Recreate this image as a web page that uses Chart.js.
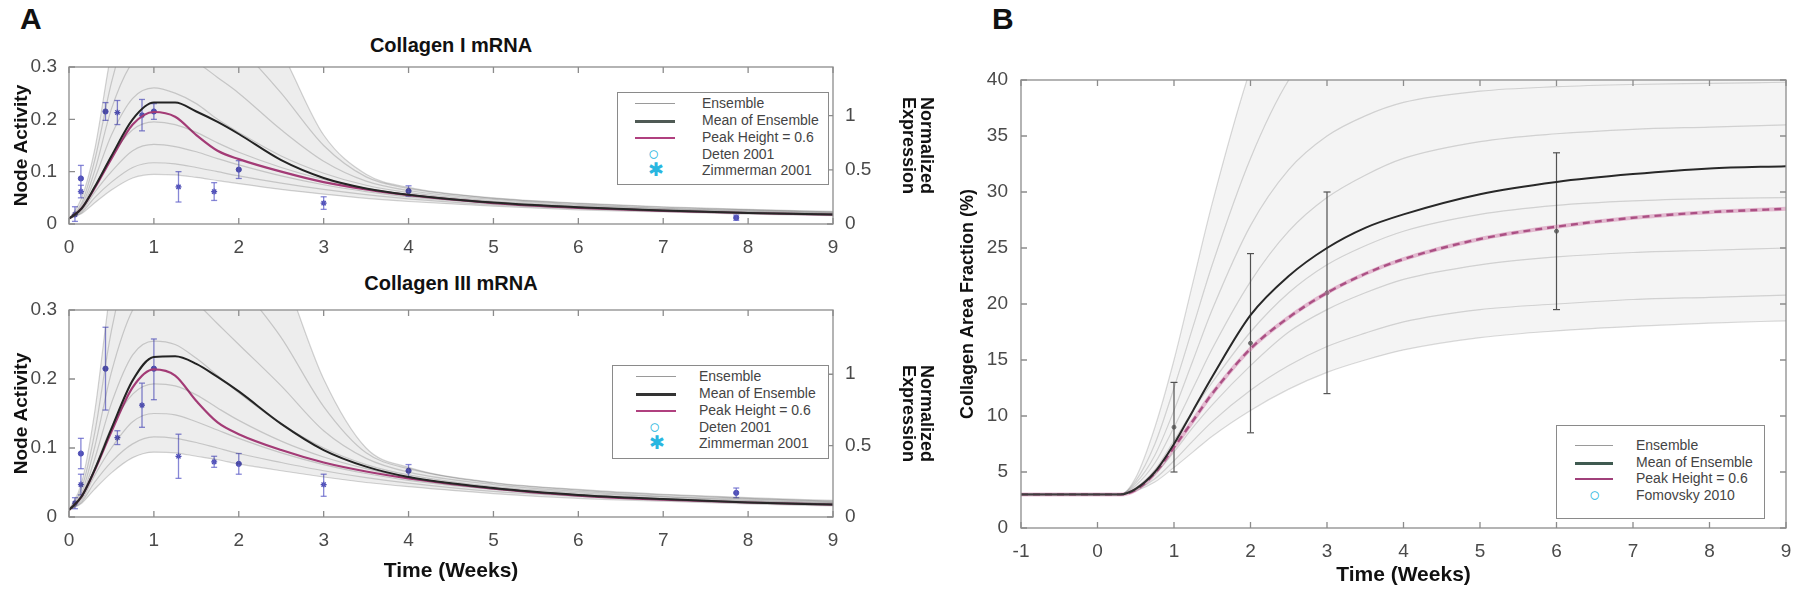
<!DOCTYPE html>
<html>
<head>
<meta charset="utf-8">
<script src="https://cdn.jsdelivr.net/npm/chart.js@4.4.1/dist/chart.umd.min.js"></script>
<style>
  body { margin: 0; width: 1800px; height: 594px; background: #fff; position: relative; overflow: hidden; font-family: "Liberation Sans", Arial, sans-serif; }
  canvas { position: absolute; }
  .lbl { position: absolute; font: bold 30px "Liberation Sans", Arial, sans-serif; color: #111; }
  .ttl { position: absolute; font: bold 20px "Liberation Sans Narrow", "Liberation Sans", Arial, sans-serif; color: #111; text-align: center; width: 300px; }
  .legend { position: absolute; border: 1px solid #8a8a8a; background: #fff; font: 14px "Liberation Sans", Arial, sans-serif; color: #444; }
  .row { position: absolute; left: 0; height: 16px; line-height: 16px; white-space: nowrap; }
  .row .s { position: absolute; top: 8px; }
  .row .t { position: absolute; }
  .mk { position: absolute; color: #29b6e0; font-size: 19px; line-height: 16px; top: 0; }
</style>
</head>
<body>
<div class="lbl" style="left:20px; top:2px;">A</div>
<div class="lbl" style="left:992px; top:2px;">B</div>
<div class="ttl" style="left:301px; top:34px;">Collagen I mRNA</div>
<div class="ttl" style="left:301px; top:272px;">Collagen III mRNA</div>

<canvas id="colI" width="940" height="219" style="left:0; top:35px;"></canvas>
<canvas id="colIII" width="940" height="316" style="left:0; top:278px;"></canvas>
<canvas id="area" width="860" height="594" style="left:940px; top:0;"></canvas>

<div class="legend" style="left:617px; top:92px; width:210px; height:91px;">
  <div class="row" style="top:2px"><div class="s" style="left:17px; width:40px; border-top:1.5px solid #9a9a9a"></div><span class="t" style="left:84px">Ensemble</span></div>
  <div class="row" style="top:19px"><div class="s" style="left:17px; width:40px; border-top:3px solid #4f5a55"></div><span class="t" style="left:84px">Mean of Ensemble</span></div>
  <div class="row" style="top:36px"><div class="s" style="left:17px; width:40px; border-top:2px solid #b0407f"></div><span class="t" style="left:84px">Peak Height = 0.6</span></div>
  <div class="row" style="top:53px"><span class="mk" style="left:30px">○</span><span class="t" style="left:84px">Deten 2001</span></div>
  <div class="row" style="top:69px"><span class="mk" style="left:30px">✱</span><span class="t" style="left:84px">Zimmerman 2001</span></div>
</div>
<div class="legend" style="left:612px; top:365px; width:215px; height:92px;">
  <div class="row" style="top:2px"><div class="s" style="left:23px; width:40px; border-top:1.5px solid #9a9a9a"></div><span class="t" style="left:86px">Ensemble</span></div>
  <div class="row" style="top:19px"><div class="s" style="left:23px; width:40px; border-top:3px solid #333"></div><span class="t" style="left:86px">Mean of Ensemble</span></div>
  <div class="row" style="top:36px"><div class="s" style="left:23px; width:40px; border-top:2px solid #b0407f"></div><span class="t" style="left:86px">Peak Height = 0.6</span></div>
  <div class="row" style="top:53px"><span class="mk" style="left:36px">○</span><span class="t" style="left:86px">Deten 2001</span></div>
  <div class="row" style="top:69px"><span class="mk" style="left:36px">✱</span><span class="t" style="left:86px">Zimmerman 2001</span></div>
</div>
<div class="legend" style="left:1556px; top:425px; width:207px; height:92px;">
  <div class="row" style="top:11px"><div class="s" style="left:18px; width:38px; border-top:1.5px solid #9a9a9a"></div><span class="t" style="left:79px">Ensemble</span></div>
  <div class="row" style="top:28px"><div class="s" style="left:18px; width:38px; border-top:3px solid #3f5a50"></div><span class="t" style="left:79px">Mean of Ensemble</span></div>
  <div class="row" style="top:44px"><div class="s" style="left:18px; width:38px; border-top:2px solid #a0407a"></div><span class="t" style="left:79px">Peak Height = 0.6</span></div>
  <div class="row" style="top:61px"><span class="mk" style="left:32px">○</span><span class="t" style="left:79px">Fomovsky 2010</span></div>
</div>

<script>
// ---- panel A : Collagen I / III mRNA (node activity vs weeks)
const weeksA = [0, 0.15, 0.3, 0.5, 0.75, 1, 1.25, 1.5, 1.75, 2, 2.5, 3, 3.5, 4, 5, 6, 7, 8, 9];
const ticksAx = [0, 1, 2, 3, 4, 5, 6, 7, 8, 9];
const ticksAy = [0, 0.1, 0.2, 0.3];
const ticksNorm = [0, 0.5, 1];

const meanI = [0.01, 0.03, 0.07, 0.13, 0.2, 0.232, 0.232, 0.215, 0.195, 0.172, 0.122, 0.088, 0.068, 0.056, 0.041, 0.032, 0.026, 0.021, 0.018];
const peakI = [0.01, 0.03, 0.068, 0.125, 0.19, 0.214, 0.205, 0.17, 0.14, 0.124, 0.1, 0.08, 0.066, 0.055, 0.04, 0.031, 0.025, 0.021, 0.018];
const ensembleI = [
  [0.01, 0.05, 0.14, 0.33, 0.5, 0.56, 0.56, 0.54, 0.5, 0.46, 0.33, 0.17, 0.095, 0.07, 0.05, 0.04, 0.033, 0.028, 0.024],
  [0.01, 0.04, 0.12, 0.27, 0.4, 0.44, 0.44, 0.42, 0.38, 0.34, 0.25, 0.15, 0.09, 0.068, 0.049, 0.039, 0.032, 0.027, 0.023],
  [0.01, 0.035, 0.1, 0.22, 0.31, 0.34, 0.335, 0.31, 0.28, 0.25, 0.18, 0.12, 0.082, 0.064, 0.047, 0.037, 0.03, 0.026, 0.022],
  [0.01, 0.03, 0.085, 0.17, 0.24, 0.26, 0.25, 0.23, 0.2, 0.175, 0.13, 0.097, 0.074, 0.06, 0.044, 0.035, 0.029, 0.024, 0.021],
  [0.01, 0.028, 0.07, 0.13, 0.18, 0.195, 0.19, 0.175, 0.155, 0.137, 0.108, 0.085, 0.068, 0.056, 0.042, 0.033, 0.027, 0.023, 0.02],
  [0.01, 0.025, 0.06, 0.1, 0.14, 0.152, 0.148, 0.138, 0.125, 0.113, 0.092, 0.075, 0.062, 0.052, 0.04, 0.032, 0.026, 0.022, 0.019],
  [0.01, 0.022, 0.05, 0.08, 0.108, 0.117, 0.115, 0.108, 0.1, 0.092, 0.078, 0.066, 0.056, 0.048, 0.037, 0.03, 0.025, 0.021, 0.018],
  [0.01, 0.02, 0.04, 0.065, 0.088, 0.095, 0.094, 0.089, 0.083, 0.077, 0.066, 0.057, 0.049, 0.043, 0.034, 0.027, 0.023, 0.019, 0.016]
];
// data points (weeks, mean, low, high)
const detenIt = [0.14, 0.43, 1.0, 2.0, 4.0, 7.86];
const detenIy = [0.087, 0.215, 0.215, 0.104, 0.063, 0.012];
const detenIlo = [0.062, 0.198, 0.2, 0.087, 0.053, 0.007];
const detenIhi = [0.112, 0.232, 0.23, 0.121, 0.073, 0.017];
const zimIt = [0.07, 0.14, 0.57, 0.86, 1.29, 1.71, 3.0];
const zimIy = [0.018, 0.062, 0.213, 0.208, 0.071, 0.062, 0.04];
const zimIlo = [0.005, 0.05, 0.19, 0.178, 0.042, 0.045, 0.028];
const zimIhi = [0.033, 0.074, 0.236, 0.238, 0.1, 0.079, 0.052];

const meanIII = [0.01, 0.03, 0.068, 0.128, 0.198, 0.232, 0.233, 0.222, 0.203, 0.182, 0.135, 0.097, 0.073, 0.058, 0.042, 0.032, 0.026, 0.021, 0.018];
const peakIII = [0.01, 0.03, 0.067, 0.124, 0.188, 0.214, 0.205, 0.168, 0.137, 0.12, 0.097, 0.079, 0.066, 0.056, 0.041, 0.031, 0.025, 0.021, 0.018];
const ensembleIII = [
  [0.01, 0.05, 0.15, 0.34, 0.5, 0.56, 0.57, 0.55, 0.52, 0.48, 0.36, 0.2, 0.1, 0.072, 0.05, 0.04, 0.033, 0.028, 0.024],
  [0.01, 0.042, 0.12, 0.27, 0.39, 0.43, 0.43, 0.41, 0.38, 0.34, 0.26, 0.16, 0.093, 0.07, 0.049, 0.039, 0.032, 0.027, 0.023],
  [0.01, 0.035, 0.1, 0.21, 0.3, 0.33, 0.33, 0.31, 0.28, 0.25, 0.19, 0.125, 0.085, 0.065, 0.047, 0.037, 0.03, 0.026, 0.022],
  [0.01, 0.03, 0.083, 0.165, 0.235, 0.255, 0.25, 0.23, 0.205, 0.18, 0.135, 0.1, 0.076, 0.061, 0.044, 0.035, 0.029, 0.024, 0.021],
  [0.01, 0.028, 0.07, 0.13, 0.178, 0.193, 0.19, 0.177, 0.158, 0.14, 0.11, 0.087, 0.07, 0.057, 0.042, 0.033, 0.027, 0.023, 0.02],
  [0.01, 0.025, 0.06, 0.1, 0.138, 0.15, 0.148, 0.138, 0.126, 0.114, 0.093, 0.076, 0.063, 0.053, 0.04, 0.032, 0.026, 0.022, 0.019],
  [0.01, 0.022, 0.05, 0.08, 0.106, 0.116, 0.114, 0.108, 0.1, 0.092, 0.079, 0.067, 0.057, 0.049, 0.037, 0.03, 0.025, 0.021, 0.018],
  [0.01, 0.02, 0.04, 0.064, 0.086, 0.094, 0.093, 0.088, 0.083, 0.077, 0.067, 0.058, 0.05, 0.044, 0.034, 0.027, 0.023, 0.019, 0.016]
];
const detenIIIt = [0.14, 0.43, 1.0, 2.0, 4.0, 7.86];
const detenIIIy = [0.092, 0.215, 0.215, 0.077, 0.067, 0.035];
const detenIIIlo = [0.07, 0.155, 0.17, 0.062, 0.058, 0.028];
const detenIIIhi = [0.114, 0.275, 0.258, 0.092, 0.076, 0.042];
const zimIIIt = [0.07, 0.14, 0.57, 0.86, 1.29, 1.71, 3.0];
const zimIIIy = [0.02, 0.047, 0.115, 0.162, 0.088, 0.08, 0.047];
const zimIIIlo = [0.012, 0.032, 0.105, 0.13, 0.056, 0.072, 0.03];
const zimIIIhi = [0.028, 0.062, 0.125, 0.194, 0.12, 0.088, 0.062];

// ---- panel B : collagen area fraction (%)
const weeksB = [-1, 0, 0.3, 0.5, 0.75, 1, 1.25, 1.5, 2, 2.5, 3, 3.5, 4, 5, 6, 7, 8, 9];
const ticksBx = [-1, 0, 1, 2, 3, 4, 5, 6, 7, 8, 9];
const ticksBy = [0, 5, 10, 15, 20, 25, 30, 35, 40];
const meanB = [3, 3, 3, 3.5, 5, 7.5, 10.5, 13.5, 19, 22.5, 25, 26.8, 28, 29.8, 30.9, 31.6, 32.1, 32.3];
const peakB = [3, 3, 3, 3.4, 4.9, 7.2, 9.6, 12, 16, 18.8, 21, 22.7, 24, 25.8, 26.9, 27.7, 28.2, 28.5];
const ensembleB = [
  [3, 3, 3, 4.5, 9, 15, 22, 29, 41, 50, 55, 58, 60, 61, 62, 62, 62, 62],
  [3, 3, 3, 4.2, 7.5, 12.5, 18, 23.5, 33, 40, 44, 46.5, 48, 49.5, 50, 50, 50, 50],
  [3, 3, 3, 4, 6.5, 10.5, 15, 19.5, 27, 32, 35, 36.8, 38, 39, 39.4, 39.6, 39.7, 39.8],
  [3, 3, 3, 3.8, 5.8, 9, 12.5, 16, 22, 26.5, 29.5, 31.5, 33, 34.5, 35.2, 35.6, 35.8, 36],
  [3, 3, 3, 3.6, 5.2, 7.8, 10.5, 13, 17.5, 21, 23.5, 25.2, 26.5, 28, 28.8, 29.2, 29.4, 29.5],
  [3, 3, 3, 3.5, 4.8, 6.8, 9, 11, 14.5, 17.5, 19.5, 21, 22.2, 23.5, 24.2, 24.6, 24.8, 25],
  [3, 3, 3, 3.4, 4.4, 6, 7.8, 9.5, 12.3, 14.5, 16.2, 17.4, 18.4, 19.5, 20, 20.4, 20.6, 20.8],
  [3, 3, 3, 3.3, 4.1, 5.4, 6.8, 8.2, 10.5, 12.4, 13.9, 15, 15.9, 17, 17.6, 18, 18.3, 18.5]
];
const fomT = [1, 2, 3, 6];
const fomY = [9, 16.5, 21, 26.5];
const fomLo = [5, 8.5, 12, 19.5];
const fomHi = [13, 24.5, 30, 33.5];

// ---- helpers
const xy = (xs, ys) => xs.map((x, i) => ({ x: x, y: ys[i] }));
function errorBars(xs, lo, hi) {
  const out = [];
  xs.forEach((x, i) => { out.push({ x: x, y: lo[i] }, { x: x, y: hi[i] }, { x: x, y: null }); });
  return out;
}
const narrow = '"Liberation Sans Narrow", "Liberation Sans", Arial, sans-serif';
const sans = '"Liberation Sans", Arial, sans-serif';

function curve(data, color, width, extra) {
  return Object.assign({ data: data, borderColor: color, borderWidth: width, pointRadius: 0, fill: false, cubicInterpolationMode: 'monotone' }, extra || {});
}

function ensembleSets(weeks, lines, fillColor, lineColor) {
  const sets = [];
  // shaded spread between lowest and highest ensemble member
  sets.push(curve(xy(weeks, lines[lines.length - 1]), 'rgba(0,0,0,0)', 0));
  sets.push(curve(xy(weeks, lines[0]), 'rgba(0,0,0,0)', 0, { fill: '-1', backgroundColor: fillColor }));
  lines.forEach(l => sets.push(curve(xy(weeks, l), lineColor, 1.2)));
  return sets;
}

// box with inward ticks on all four sides, like the original figure
const boxPlugin = {
  id: 'box',
  afterDatasetsDraw(chart) {
    const { ctx, chartArea: a, scales } = chart;
    ctx.save();
    ctx.strokeStyle = '#8c8c8c';
    ctx.lineWidth = 1.3;
    ctx.strokeRect(a.left, a.top, a.right - a.left, a.bottom - a.top);
    ctx.beginPath();
    scales.x.ticks.forEach(t => {
      const p = scales.x.getPixelForValue(t.value);
      ctx.moveTo(p, a.bottom); ctx.lineTo(p, a.bottom - 6);
      ctx.moveTo(p, a.top); ctx.lineTo(p, a.top + 6);
    });
    scales.y.ticks.forEach(t => {
      const p = scales.y.getPixelForValue(t.value);
      ctx.moveTo(a.left, p); ctx.lineTo(a.left + 6, p);
      if (!scales.y2) { ctx.moveTo(a.right, p); ctx.lineTo(a.right - 6, p); }
    });
    if (scales.y2) {
      scales.y2.ticks.forEach(t => {
        const p = scales.y2.getPixelForValue(t.value);
        ctx.moveTo(a.right, p); ctx.lineTo(a.right - 6, p);
      });
    }
    ctx.stroke();
    ctx.restore();
  }
};

function fixedTicks(values) {
  return s => { s.ticks = values.map(v => ({ value: v })); };
}

function panelA(id, mean, peak, ens, dT, dY, dLo, dHi, zT, zY, zLo, zHi, withTitle) {
  const errColor = 'rgba(95,95,200,0.75)';
  const datasets = [].concat(
    ensembleSets(weeksA, ens, 'rgba(0,0,0,0.07)', 'rgba(60,60,60,0.22)'),
    [
      curve(xy(weeksA, mean), '#262626', 2),
      curve(xy(weeksA, peak), '#b0407f', 2.2),
      { data: errorBars(dT, dLo, dHi), borderColor: errColor, borderWidth: 1.3, pointStyle: 'line', pointRadius: 3, pointBorderColor: errColor, pointBorderWidth: 1.3, spanGaps: false },
      { data: errorBars(zT, zLo, zHi), borderColor: errColor, borderWidth: 1.3, pointStyle: 'line', pointRadius: 3, pointBorderColor: errColor, pointBorderWidth: 1.3, spanGaps: false },
      { data: xy(dT, dY), showLine: false, pointStyle: 'circle', pointRadius: 2.6, pointBackgroundColor: '#4f4fb5', pointBorderColor: '#4f4fb5' },
      { data: xy(zT, zY), showLine: false, pointStyle: 'star', pointRadius: 3, pointBorderWidth: 1.3, pointBorderColor: '#4f4fb5' }
    ]
  );

  new Chart(document.getElementById(id), {
    type: 'line',
    data: { datasets: datasets },
    options: {
      responsive: false, animation: false, devicePixelRatio: 1,
      layout: { padding: { top: 32, left: 0, right: 0, bottom: 0 } },
      plugins: { legend: { display: false }, tooltip: { enabled: false } },
      scales: {
        x: {
          type: 'linear', min: 0, max: 9,
          afterBuildTicks: fixedTicks(ticksAx),
          afterFit: s => { s.height = withTitle ? 77 : 30; },
          grid: { display: false }, border: { display: false },
          ticks: { color: '#4a4a4a', font: { family: sans, size: 19 }, padding: 4, maxRotation: 0 },
          title: { display: withTitle, text: 'Time (Weeks)', color: '#111', font: { family: narrow, size: 21, weight: 'bold' }, padding: { top: 0, bottom: 10 } }
        },
        y: {
          min: 0, max: 0.3,
          afterBuildTicks: fixedTicks(ticksAy),
          afterFit: s => { s.width = 69; },
          grid: { display: false }, border: { display: false },
          ticks: { color: '#4a4a4a', font: { family: sans, size: 19 }, padding: 4, callback: v => String(+v.toFixed(2)) },
          title: { display: true, text: 'Node Activity', color: '#111', font: { family: sans, size: 19, weight: 'bold', lineHeight: 1.1 }, padding: { top: 11, bottom: 0 } }
        },
        y2: {
          position: 'right', min: 0, max: 1.45,
          afterBuildTicks: fixedTicks(ticksNorm),
          afterFit: s => { s.width = 107; },
          grid: { display: false }, border: { display: false },
          ticks: { color: '#4a4a4a', font: { family: sans, size: 19 }, padding: 4, callback: v => String(+v.toFixed(2)) },
          title: { display: true, text: ['Normalized', 'Expression'], color: '#111', font: { family: sans, size: 18, weight: 'bold', lineHeight: 1.0 }, padding: { top: 5, bottom: 0 } }
        }
      }
    },
    plugins: [boxPlugin]
  });
}

panelA('colI', meanI, peakI, ensembleI, detenIt, detenIy, detenIlo, detenIhi, zimIt, zimIy, zimIlo, zimIhi, false);
panelA('colIII', meanIII, peakIII, ensembleIII, detenIIIt, detenIIIy, detenIIIlo, detenIIIhi, zimIIIt, zimIIIy, zimIIIlo, zimIIIhi, true);

// ---- panel B
const barColor = '#555';
const setsB = [].concat(
  ensembleSets(weeksB, ensembleB, 'rgba(0,0,0,0.045)', 'rgba(70,70,70,0.2)'),
  [
    curve(xy(weeksB, meanB), '#2a2a2a', 2),
    curve(xy(weeksB, peakB), 'rgba(215,120,170,0.45)', 4),
    curve(xy(weeksB, peakB), '#96376f', 2.4, { borderDash: [7, 5] }),
    { data: errorBars(fomT, fomLo, fomHi), borderColor: barColor, borderWidth: 1.2, pointStyle: 'line', pointRadius: 3.5, pointBorderColor: barColor, pointBorderWidth: 1.2, spanGaps: false },
    { data: xy(fomT, fomY), showLine: false, pointStyle: 'circle', pointRadius: 2, pointBackgroundColor: '#777', pointBorderColor: '#777' }
  ]
);

new Chart(document.getElementById('area'), {
  type: 'line',
  data: { datasets: setsB },
  options: {
    responsive: false, animation: false, devicePixelRatio: 1,
    layout: { padding: { top: 80, left: 0, right: 14, bottom: 0 } },
    plugins: { legend: { display: false }, tooltip: { enabled: false } },
    scales: {
      x: {
        type: 'linear', min: -1, max: 9,
        afterBuildTicks: fixedTicks(ticksBx),
        afterFit: s => { s.height = 66; },
        grid: { display: false }, border: { display: false },
        ticks: { color: '#4a4a4a', font: { family: sans, size: 19 }, padding: 4, maxRotation: 0 },
        title: { display: true, text: 'Time (Weeks)', color: '#111', font: { family: narrow, size: 21, weight: 'bold' }, padding: { top: 0, bottom: 6 } }
      },
      y: {
        min: 0, max: 40,
        afterBuildTicks: fixedTicks(ticksBy),
        afterFit: s => { s.width = 81; },
        grid: { display: false }, border: { display: false },
        ticks: { color: '#4a4a4a', font: { family: sans, size: 19 }, padding: 5 },
        title: { display: true, text: 'Collagen Area Fraction (%)', color: '#111', font: { family: sans, size: 18, weight: 'bold' }, padding: { top: 17, bottom: 0 } }
      }
    }
  },
  plugins: [boxPlugin]
});
</script>
</body>
</html>
